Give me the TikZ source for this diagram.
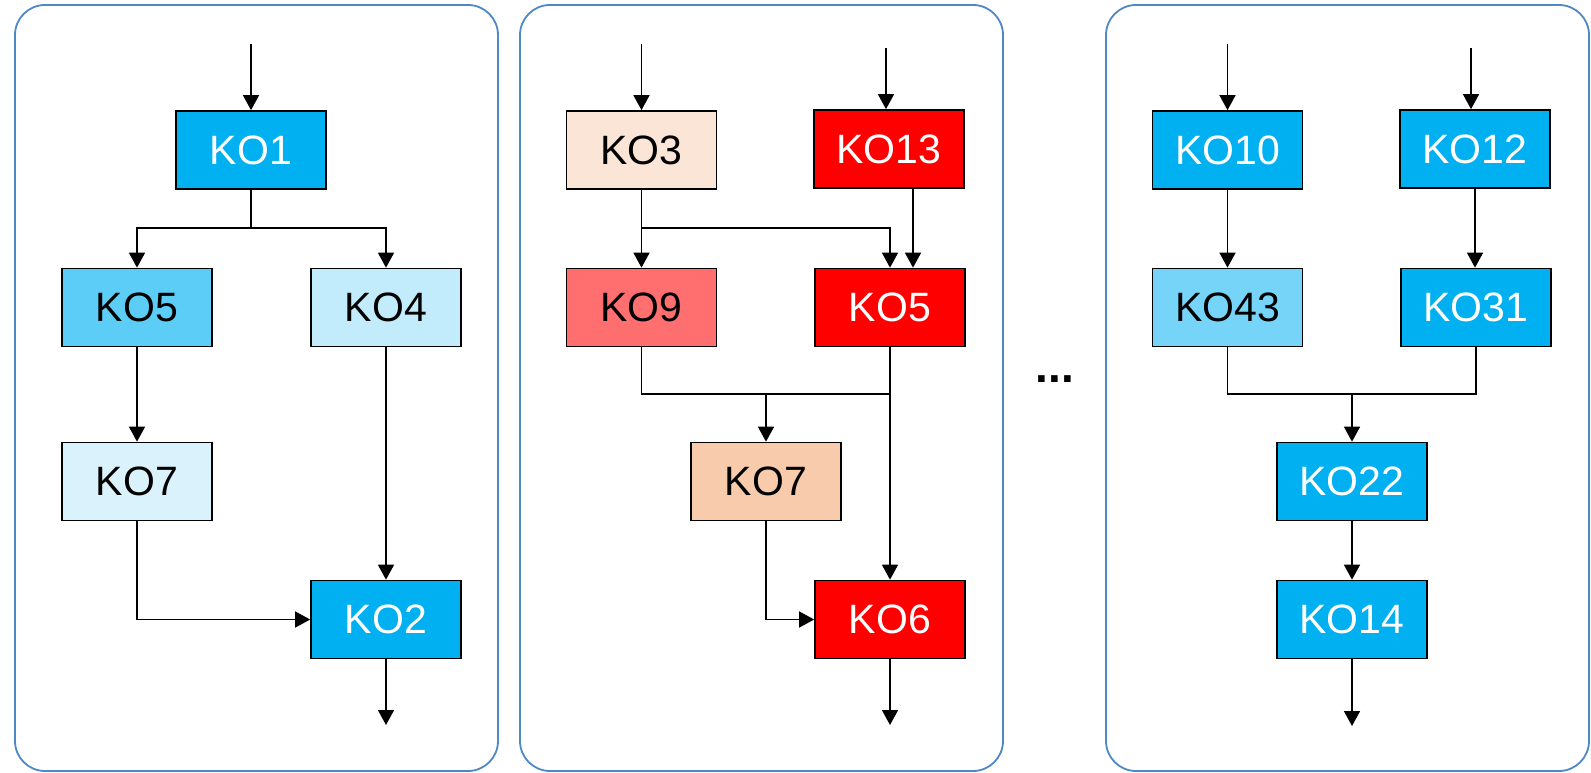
\documentclass[tikz,border=0pt]{standalone}
\usepackage{fontspec}
\setmainfont{Liberation Sans}
\usetikzlibrary{arrows.meta}
\definecolor{koblue}{HTML}{00B0F0}
\definecolor{kobluemid}{HTML}{5BCDF6}
\definecolor{kobluelt}{HTML}{C2EBFB}
\definecolor{kobluevlt}{HTML}{DAF2FB}
\definecolor{koblueft}{HTML}{75D4F7}
\definecolor{kopeach}{HTML}{FBE5D6}
\definecolor{kored}{HTML}{FF0000}
\definecolor{kopink}{HTML}{FF6F6F}
\definecolor{kotan}{HTML}{F8CBAD}
\definecolor{panelblue}{HTML}{4F88C6}
\tikzset{
  kobox/.style={draw=black, line width=1.7pt, minimum width=150pt, minimum height=78pt,
    inner sep=0pt, font=\fontsize{41}{48}\selectfont},
  arr/.style={line width=1.6pt, -{Triangle[width=16pt,length=15pt]}},
  ln/.style={line width=1.6pt},
  panel/.style={draw=panelblue, line width=1.8pt, rounded corners=30pt},
}
\begin{document}
\begin{tikzpicture}[x=1pt,y=-1pt]
\useasboundingbox (0,0) rectangle (1591,773);
% panels
\draw[panel] (15,5) rectangle (498,771);
\draw[panel] (520,5) rectangle (1003,771);
\draw[panel] (1106,5) rectangle (1589,771);
\node[font=\fontsize{46}{52}\bfseries\selectfont, anchor=base] (dots) at (1055,382) {...};

% ---------- panel 1
\node[kobox, fill=koblue, text=white] (aKO1) at (251,150) {KO1};
\node[kobox, fill=kobluemid] (aKO5) at (137,307.5) {KO5};
\node[kobox, fill=kobluelt] (aKO4) at (386,307.5) {KO4};
\node[kobox, fill=kobluevlt] (aKO7) at (137,481.5) {KO7};
\node[kobox, fill=koblue, text=white] (aKO2) at (386,619.5) {KO2};
\coordinate (ain) at (251,44);
\coordinate (as) at (251,228);
\coordinate (aout) at (386,725);
\draw[arr] (ain) -- (aKO1);
\draw[ln] (aKO1) -- (as);
\draw[arr] (as) -| (aKO5);
\draw[arr] (as) -| (aKO4);
\draw[arr] (aKO5) -- (aKO7);
\draw[arr] (aKO4) -- (aKO2);
\draw[arr] (aKO7) |- (aKO2);
\draw[arr] (aKO2) -- (aout);

% ---------- panel 2
\node[kobox, fill=kopeach] (bKO3) at (641.5,150) {KO3};
\node[kobox, fill=kored, text=white] (bKO13) at (889,149) {KO13};
\node[kobox, fill=kopink] (bKO9) at (641.5,307.5) {KO9};
\node[kobox, fill=kored, text=white] (bKO5) at (890,307.5) {KO5};
\node[kobox, fill=kotan] (bKO7) at (766,481.5) {KO7};
\node[kobox, fill=kored, text=white] (bKO6) at (890,619.5) {KO6};
\coordinate (bin1) at (641.5,44);
\coordinate (bin2) at (886,48);
\coordinate (bs) at (641.5,228);
\coordinate (bm) at (641.5,394);
\coordinate (bj) at (766,394);
\coordinate (bout) at (890,725);
\draw[arr] (bin1) -- (bKO3);
\draw[arr] (bin2) -- (bin2 |- bKO13.north);
\draw[ln] (bKO3) -- (bs);
\draw[arr] (bs) -- (bKO9);
\draw[arr] (bs) -| (bKO5);
\draw[arr] ([xshift=24pt]bKO13.south) -- ([xshift=23pt]bKO5.north);
\draw[ln] (bKO9) -- (bm) -- (bm -| bKO5);
\draw[arr] (bj) -- (bKO7);
\draw[arr] (bKO5) -- (bKO6);
\draw[arr] (bKO7) |- (bKO6);
\draw[arr] (bKO6) -- (bout);

% ---------- panel 3
\node[kobox, fill=koblue, text=white] (cKO10) at (1227.5,150) {KO10};
\node[kobox, fill=koblue, text=white] (cKO12) at (1475,149) {KO12};
\node[kobox, fill=koblueft] (cKO43) at (1227.5,307.5) {KO43};
\node[kobox, fill=koblue, text=white] (cKO31) at (1476,307.5) {KO31};
\node[kobox, fill=koblue, text=white] (cKO22) at (1352,481.5) {KO22};
\node[kobox, fill=koblue, text=white] (cKO14) at (1352,619.5) {KO14};
\coordinate (cin1) at (1227.5,44);
\coordinate (cin2) at (1471,48);
\coordinate (cm) at (1227.5,394);
\coordinate (cj) at (1352,394);
\coordinate (cout) at (1352,726);
\draw[arr] (cin1) -- (cKO10);
\draw[arr] (cin2) -- (cin2 |- cKO12.north);
\draw[arr] (cKO10) -- (cKO43);
\draw[arr] (cKO12) -- (cKO12 |- cKO31.north);
\draw[ln] (cKO43) -- (cm) -- (cm -| cKO31) -- (cKO31);
\draw[arr] (cj) -- (cKO22);
\draw[arr] (cKO22) -- (cKO14);
\draw[arr] (cKO14) -- (cout);
\end{tikzpicture}
\end{document}
